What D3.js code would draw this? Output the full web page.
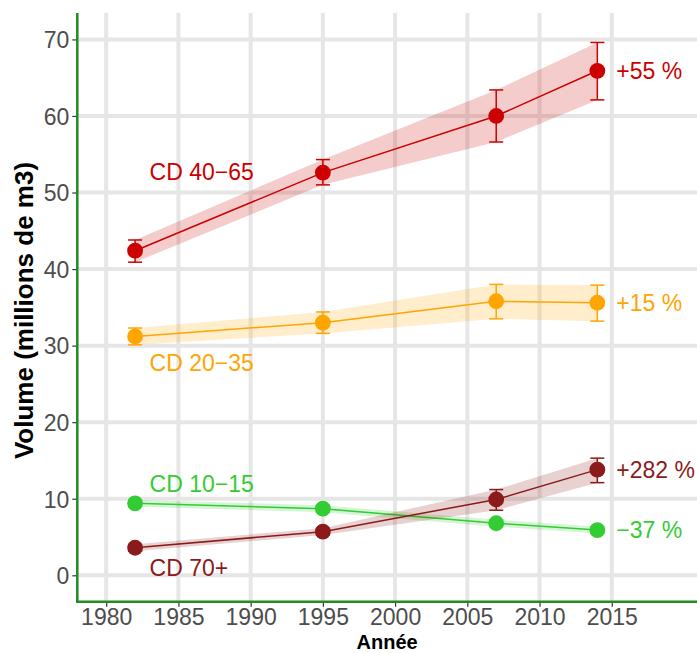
<!DOCTYPE html>
<html>
<head>
<meta charset="utf-8">
<script src="https://cdn.jsdelivr.net/npm/d3@7"></script>
<style>
  body { margin: 0; background: #fff; }
  svg { display: block; font-family: "Liberation Sans", Arial, sans-serif; }
</style>
</head>
<body>
<div id="chart"></div>
<script>
// data
var years = [1982, 1995, 2007, 2014];

var cd4065 = [42.4, 52.6, 60.0, 65.9];
var cd4065Low = [40.9, 51.0, 56.6, 62.1];
var cd4065High = [43.8, 54.3, 63.4, 69.6];

var cd2035 = [31.2, 33.0, 35.8, 35.6];
var cd2035Low = [30.1, 31.6, 33.5, 33.2];
var cd2035High = [32.3, 34.4, 38.0, 37.9];

var cd1015 = [9.4, 8.7, 6.8, 5.9];
var cd1015Low = [8.95, 8.25, 6.35, 5.45];
var cd1015High = [9.85, 9.15, 7.25, 6.35];

var cd70 = [3.6, 5.7, 9.9, 13.8];
var cd70Low = [3.15, 5.25, 8.5, 12.1];
var cd70High = [4.05, 6.15, 11.2, 15.3];

var seriesNames = ["CD 40\u221265", "CD 20\u221235", "CD 10\u221215", "CD 70+"];
var changeLabels = ["+55 %", "+15 %", "\u221237 %", "+282 %"];
// label anchors in data units (year, volume)
var nameYears = [1983, 1983, 1983, 1983];
var nameValues = [52.7, 27.8, 11.9, 1.0];

var xTicks = [1980, 1985, 1990, 1995, 2000, 2005, 2010, 2015];
var yTicks = [0, 10, 20, 30, 40, 50, 60, 70];

var colors = ["#cc0000", "#ffa500", "#33cc33", "#8b1a1a"];

var series = [
    {mid: cd4065, low: cd4065Low, high: cd4065High},
    {mid: cd2035, low: cd2035Low, high: cd2035High},
    {mid: cd1015, low: cd1015Low, high: cd1015High},
    {mid: cd70, low: cd70Low, high: cd70High}
];

var width = 697, height = 653;
var panel = {left: 77.3, right: 697, top: 13, bottom: 601.7};
var pointR = 7.9, capW = 7;

var svg = d3.select("#chart").append("svg")
    .attr("width", width)
    .attr("height", height);

var x = d3.scaleLinear().domain([1978, 2020.9]).range([panel.left, panel.right]);
var y = d3.scaleLinear().domain([-3.45, 73.45]).range([panel.bottom, panel.top]);

// grid
var grid = svg.append("g");
grid.selectAll(".gx").data(xTicks).enter().append("line")
    .attr("x1", d => x(d)).attr("x2", d => x(d))
    .attr("y1", panel.top).attr("y2", panel.bottom)
    .attr("stroke", "#e6e6e6").attr("stroke-width", 4);
grid.selectAll(".gy").data(yTicks).enter().append("line")
    .attr("x1", panel.left).attr("x2", panel.right)
    .attr("y1", d => y(d)).attr("y2", d => y(d))
    .attr("stroke", "#e6e6e6").attr("stroke-width", 4);

// axes
var xAxis = d3.axisBottom(x).tickValues(xTicks).tickSize(5).tickPadding(2).tickFormat(d3.format("d"));
var yAxis = d3.axisLeft(y).tickValues(yTicks).tickSize(5).tickPadding(3);

var gx = svg.append("g").attr("transform", "translate(0," + panel.bottom + ")").call(xAxis);
var gy = svg.append("g").attr("transform", "translate(" + panel.left + ",0)").call(yAxis);
[gx, gy].forEach(function (g) {
    g.select(".domain").remove();
    g.selectAll(".tick line").attr("stroke", "#333").attr("stroke-width", 1.2);
    g.selectAll(".tick text").attr("fill", "#4d4d4d").style("font-size", "23px")
        .style("font-family", "'Liberation Sans', Arial, sans-serif");
});
gy.selectAll(".tick text").attr("dy", "0.36em");
gx.selectAll(".tick text").attr("dy", "0.71em");

// ribbons, lines, error bars, points
var idx = d3.range(years.length);
series.forEach(function (s, i) {
    var g = svg.append("g");
    var area = d3.area()
        .x(j => x(years[j]))
        .y0(j => y(s.low[j]))
        .y1(j => y(s.high[j]));
    g.append("path").datum(idx).attr("d", area)
        .attr("fill", colors[i]).attr("fill-opacity", 0.2);

    var line = d3.line().x(j => x(years[j])).y(j => y(s.mid[j]));
    g.append("path").datum(idx).attr("d", line)
        .attr("fill", "none").attr("stroke", colors[i]).attr("stroke-width", 1.5);

    var eb = g.selectAll(".eb").data(idx).enter().append("g");
    eb.append("line")
        .attr("x1", j => x(years[j])).attr("x2", j => x(years[j]))
        .attr("y1", j => y(s.low[j])).attr("y2", j => y(s.high[j]))
        .attr("stroke", colors[i]).attr("stroke-width", 1.5);
    eb.append("line")
        .attr("x1", j => x(years[j]) - capW).attr("x2", j => x(years[j]) + capW)
        .attr("y1", j => y(s.low[j])).attr("y2", j => y(s.low[j]))
        .attr("stroke", colors[i]).attr("stroke-width", 1.5);
    eb.append("line")
        .attr("x1", j => x(years[j]) - capW).attr("x2", j => x(years[j]) + capW)
        .attr("y1", j => y(s.high[j])).attr("y2", j => y(s.high[j]))
        .attr("stroke", colors[i]).attr("stroke-width", 1.5);

    g.selectAll("circle").data(idx).enter().append("circle")
        .attr("cx", j => x(years[j])).attr("cy", j => y(s.mid[j]))
        .attr("r", pointR).attr("fill", colors[i]);

    // series name
    svg.append("text")
        .attr("x", x(nameYears[i])).attr("y", y(nameValues[i])).attr("dy", "0.36em")
        .attr("fill", colors[i]).style("font-size", "23px")
        .text(seriesNames[i]);

    // change label at last point
    var last = years.length - 1;
    svg.append("text")
        .attr("x", x(years[last]) + 19).attr("y", y(s.mid[last])).attr("dy", "0.36em")
        .attr("fill", colors[i]).style("font-size", "23px")
        .text(changeLabels[i]);
});

// axis lines
svg.append("line")
    .attr("x1", panel.left).attr("x2", panel.left)
    .attr("y1", panel.top).attr("y2", panel.bottom)
    .attr("stroke", "#228b22").attr("stroke-width", 2.5);
svg.append("line")
    .attr("x1", panel.left - 1.25).attr("x2", panel.right)
    .attr("y1", panel.bottom).attr("y2", panel.bottom)
    .attr("stroke", "#228b22").attr("stroke-width", 2.5);

// axis titles
svg.append("text")
    .attr("x", (panel.left + panel.right) / 2).attr("y", 648.5)
    .attr("text-anchor", "middle").attr("fill", "#000")
    .style("font-size", "20px").style("font-weight", "bold")
    .text("Année");
svg.append("text")
    .attr("transform", "translate(24," + 310.5 + ") rotate(-90)")
    .attr("dy", "0.36em")
    .attr("text-anchor", "middle").attr("fill", "#000")
    .style("font-size", "26px").style("font-weight", "bold")
    .text("Volume (millions de m3)");
</script>
</body>
</html>
